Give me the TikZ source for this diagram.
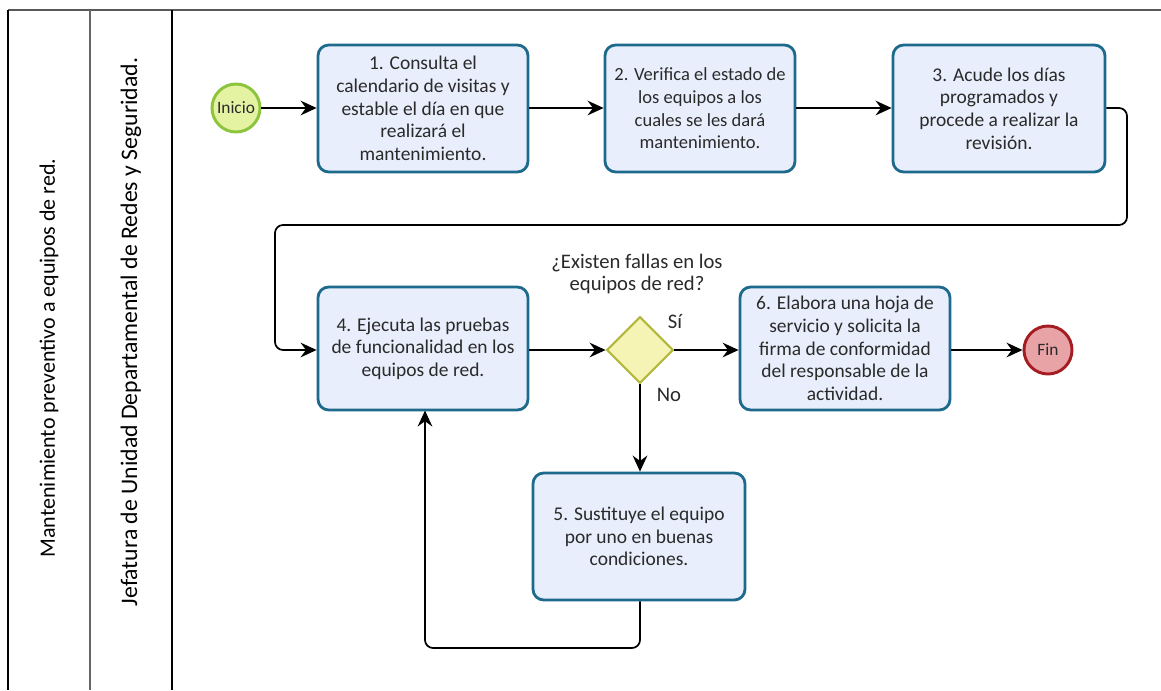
\documentclass[tikz,border=0pt]{standalone}
\usepackage{fontspec}
\setmainfont{Carlito}
\usetikzlibrary{arrows.meta,shapes.geometric}
\definecolor{taskfill}{HTML}{E8EEFB}
\definecolor{taskline}{HTML}{1D6A8C}
\definecolor{startfill}{HTML}{E4F3A2}
\definecolor{startline}{HTML}{8CC43C}
\definecolor{endfill}{HTML}{E8A3A6}
\definecolor{endline}{HTML}{A31D22}
\definecolor{gatefill}{HTML}{F6F4B4}
\definecolor{gateline}{HTML}{B2B83C}
\definecolor{txt}{HTML}{2A2A2A}
\tikzset{
  task/.style={draw=taskline, fill=taskfill, line width=2.1pt, rounded corners=8pt,
    align=center, text=txt, font=\fontsize{14.6}{17}\selectfont, inner sep=1pt},
  event/.style={circle, minimum size=36pt, inner sep=0pt, line width=2.2pt,
    font=\fontsize{13}{15}\selectfont, text=txt},
  gate/.style={diamond, draw=gateline, fill=gatefill, line width=1.6pt,
    minimum width=50pt, minimum height=50pt, inner sep=0pt, aspect=1},
  flow/.style={line width=1.3pt, rounded corners=6pt,
    -{Stealth[length=12pt,width=11pt,inset=4pt]}},
  lane/.style={rotate=90, text=black},
  note/.style={font=\fontsize{15.5}{17}\selectfont, text=txt, align=center}
}
\begin{document}
\begin{tikzpicture}[x=0.75pt,y=-0.75pt]
\useasboundingbox (0,0) rectangle (1161,690);
\fill[white] (0,0) rectangle (1161,690);

% pool and lane frame
\draw[line width=1.1pt, color=black!65] (8,10) -- (1161,10);
\draw[line width=1.3pt] (8,10) -- (8,690);
\draw[line width=1.0pt, color=black!60] (90,10) -- (90,690);
\draw[line width=1.3pt] (172,10) -- (172,690);
\node[lane, font=\fontsize{16.5}{19}\selectfont] (pool) at (49,358)
  {Mantenimiento preventivo a equipos de red.};
\node[lane, font=\fontsize{17.8}{20}\selectfont] (lanelbl) at (131,332)
  {Jefatura de Unidad Departamental de Redes y Seguridad.};

% events
\node[event, draw=startline, fill=startfill] (ini) at (236,108) {Inicio};
\node[event, draw=endline, fill=endfill] (fin) at (1048,350) {Fin};

% tasks
\node[task, minimum width=157.5pt, minimum height=95.25pt] (t1) at (423,108.5)
  {1. Consulta el\\calendario de visitas y\\estable el día en que\\realizará el\\mantenimiento.};
\node[task, minimum width=142.5pt, minimum height=95.25pt,
      font=\fontsize{13.9}{17}\selectfont] (t2) at (700,108.5)
  {2. Verifica el estado de\\los equipos a los\\cuales se les dará\\mantenimiento.};
\node[task, minimum width=159pt, minimum height=95.25pt] (t3) at (999,108.5)
  {3. Acude los días\\programados y\\procede a realizar la\\revisión.};
\node[task, minimum width=157.5pt, minimum height=92.25pt] (t4) at (423,348.5)
  {4. Ejecuta las pruebas\\de funcionalidad en los\\equipos de red.};
\node[task, minimum width=157.5pt, minimum height=92.25pt] (t6) at (845,348.5)
  {6. Elabora una hoja de\\servicio y solicita la\\firma de conformidad\\del responsable de la\\actividad.};
\node[task, minimum width=159pt, minimum height=95.25pt] (t5) at (639,536.5)
  {5. Sustituye el equipo\\por uno en buenas\\condiciones.};

% gateway
\node[gate] (gw) at (640,350) {};
\node[note] (q) at (637,274) {¿Existen fallas en los\\equipos de red?};
\node[note] (si) at (675,322) {Sí};
\node[note] (no) at (669,395) {No};

% sequence flows
\draw[flow] (ini.east) -- (t1.west |- ini);
\draw[flow] (t1.east |- ini) -- (t2.west |- ini);
\draw[flow] (t2.east |- ini) -- (t3.west |- ini);
\draw[flow] (t3.east |- ini) -- (1127,108) -- (1127,225) -- (275,225) -- (275,350) -- (t4.west |- gw);
\draw[flow] (t4.east |- gw) -- (gw.west);
\draw[flow] (gw.east) -- (t6.west |- gw);
\draw[flow] (t6.east |- gw) -- (fin.west);
\draw[flow] (gw.south) -- (t5.north -| gw);
\draw[flow] (t5.south -| gw) -- (640,648) -- (425,648) -- (425,410.5);
\end{tikzpicture}
\end{document}
